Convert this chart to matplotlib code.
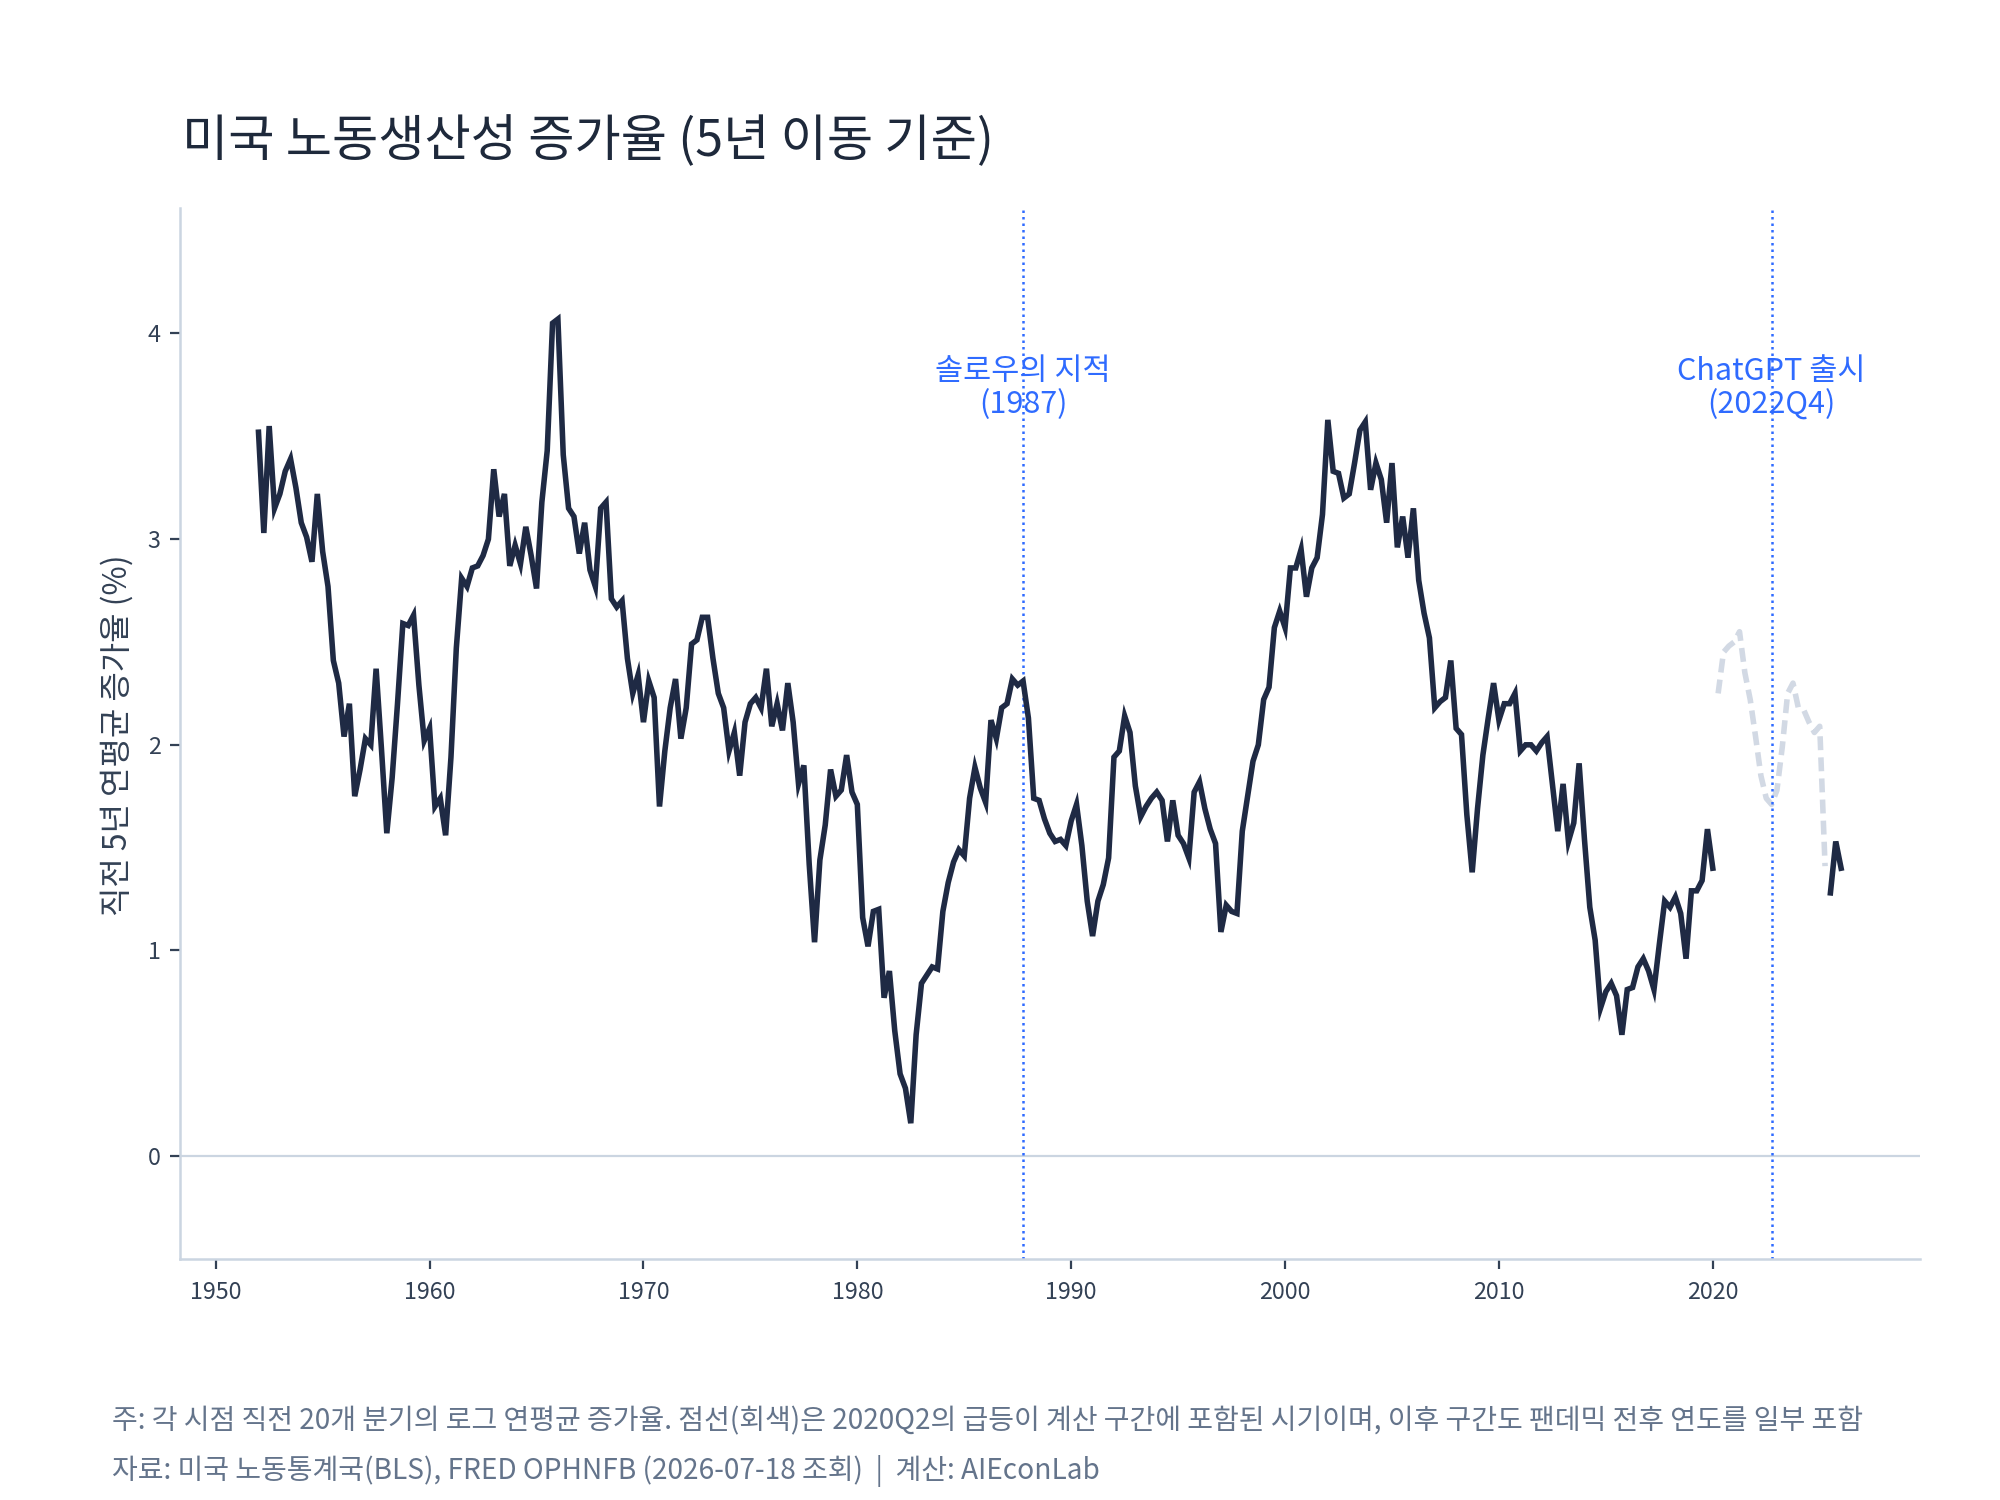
import numpy as np
import pandas as pd
import matplotlib
matplotlib.use("Agg")
import matplotlib.pyplot as plt

plt.rcParams['font.family'] = ['Noto Sans CJK KR', 'DejaVu Sans']

# ---------------- data (quarterly, 5-year trailing annualised log growth, %) ----------------
solid_start = "1952Q1"
solid_values = [
    3.52, 3.03, 3.55, 3.15,   # 1952
    3.22, 3.33, 3.39, 3.25,   # 1953
    3.08, 3.01, 2.89, 3.22,   # 1954
    2.94, 2.77, 2.41, 2.30,   # 1955
    2.04, 2.20, 1.75, 1.88,   # 1956
    2.03, 2.00, 2.37, 1.98,   # 1957
    1.57, 1.84, 2.20, 2.59,   # 1958
    2.58, 2.63, 2.29, 2.02,   # 1959
    2.08, 1.70, 1.74, 1.56,   # 1960
    1.94, 2.47, 2.81, 2.77,   # 1961
    2.86, 2.87, 2.92, 3.00,   # 1962
    3.34, 3.11, 3.22, 2.87,   # 1963
    2.97, 2.88, 3.06, 2.92,   # 1964
    2.76, 3.18, 3.43, 4.05,   # 1965
    4.07, 3.41, 3.15, 3.11,   # 1966
    2.93, 3.08, 2.85, 2.77,   # 1967
    3.15, 3.18, 2.71, 2.67,   # 1968
    2.70, 2.42, 2.25, 2.34,   # 1969
    2.11, 2.31, 2.23, 1.70,   # 1970
    1.97, 2.18, 2.32, 2.03,   # 1971
    2.18, 2.49, 2.51, 2.62,   # 1972
    2.62, 2.42, 2.25, 2.18,   # 1973
    1.97, 2.06, 1.85, 2.11,   # 1974
    2.20, 2.23, 2.18, 2.37,   # 1975
    2.09, 2.20, 2.07, 2.30,   # 1976
    2.11, 1.81, 1.90, 1.42,   # 1977
    1.04, 1.44, 1.61, 1.88,   # 1978
    1.75, 1.78, 1.95, 1.77,   # 1979
    1.71, 1.16, 1.02, 1.19,   # 1980
    1.20, 0.77, 0.90, 0.61,   # 1981
    0.40, 0.33, 0.16, 0.59,   # 1982
    0.84, 0.88, 0.92, 0.91,   # 1983
    1.19, 1.33, 1.43, 1.49,   # 1984
    1.46, 1.74, 1.89, 1.79,   # 1985
    1.72, 2.12, 2.03, 2.18,   # 1986
    2.20, 2.32, 2.29, 2.31,   # 1987
    2.13, 1.74, 1.73, 1.64,   # 1988
    1.57, 1.53, 1.54, 1.51,   # 1989
    1.63, 1.71, 1.51, 1.24,   # 1990
    1.07, 1.24, 1.32, 1.45,   # 1991
    1.94, 1.97, 2.14, 2.06,   # 1992
    1.80, 1.65, 1.70, 1.74,   # 1993
    1.77, 1.73, 1.53, 1.73,   # 1994
    1.56, 1.52, 1.45, 1.77,   # 1995
    1.82, 1.69, 1.59, 1.52,   # 1996
    1.09, 1.22, 1.19, 1.18,   # 1997
    1.58, 1.75, 1.92, 2.00,   # 1998
    2.22, 2.28, 2.57, 2.65,   # 1999
    2.57, 2.86, 2.86, 2.95,   # 2000
    2.72, 2.86, 2.91, 3.12,   # 2001
    3.58, 3.33, 3.32, 3.20,   # 2002
    3.22, 3.37, 3.53, 3.57,   # 2003
    3.24, 3.37, 3.29, 3.08,   # 2004
    3.37, 2.96, 3.11, 2.91,   # 2005
    3.15, 2.80, 2.64, 2.52,   # 2006
    2.18, 2.21, 2.23, 2.41,   # 2007
    2.08, 2.05, 1.66, 1.38,   # 2008
    1.69, 1.95, 2.13, 2.30,   # 2009
    2.12, 2.20, 2.20, 2.25,   # 2010
    1.97, 2.00, 2.00, 1.97,   # 2011
    2.01, 2.04, 1.81, 1.58,   # 2012
    1.81, 1.53, 1.62, 1.91,   # 2013
    1.54, 1.21, 1.05, 0.72,   # 2014
    0.80, 0.84, 0.78, 0.59,   # 2015
    0.81, 0.82, 0.92, 0.96,   # 2016
    0.90, 0.81, 1.03, 1.24,   # 2017
    1.21, 1.26, 1.18, 0.96,   # 2018
    1.29, 1.29, 1.34, 1.59,   # 2019
    1.40,                     # 2020Q1
]

dashed_start = "2020Q2"
dashed_values = [
    2.25, 2.45, 2.48,          # 2020Q2-Q4
    2.50, 2.55, 2.35, 2.22,    # 2021
    2.04, 1.85, 1.74, 1.71,    # 2022
    1.78, 1.99, 2.25, 2.30,    # 2023
    2.18, 2.17, 2.11, 2.06,    # 2024
    2.09, 1.41,                # 2025Q1-Q2
]

tail_start = "2025Q3"
tail_values = [1.28, 1.53, 1.40]   # 2025Q3 - 2026Q1

events_x = [1987.75, 2022.75]
events_label = ["솔로우의 지적\n(1987)", "ChatGPT 출시\n(2022Q4)"]

x_ticks = [1950, 1960, 1970, 1980, 1990, 2000, 2010, 2020]
y_ticks = [0, 1, 2, 3, 4]

title = "미국 노동생산성 증가율 (5년 이동 기준)"
ylabel = "직전 5년 연평균 증가율 (%)"
note1 = "주: 각 시점 직전 20개 분기의 로그 연평균 증가율. 점선(회색)은 2020Q2의 급등이 계산 구간에 포함된 시기이며, 이후 구간도 팬데믹 전후 연도를 일부 포함"
note2 = "자료: 미국 노동통계국(BLS), FRED OPHNFB (2026-07-18 조회)  |  계산: AIEconLab"


def quarter_x(start, n):
    p = pd.period_range(start=start, periods=n, freq="Q")
    return p.year + (p.quarter - 1) / 4.0


# ---------------- style ----------------
NAVY = "#1f2a44"
GRID = "#cbd5e1"
BLUE = "#2f6bff"
TEXT = "#1e293b"
TICK = "#334155"
NOTE = "#64748b"

fig = plt.figure(figsize=(10, 7.5), dpi=200)
ax = fig.add_axes([0.09, 0.1607, 0.8698, 0.7006])

ax.axhline(0, color=GRID, lw=0.8, zorder=1)

ax.plot(quarter_x(solid_start, len(solid_values)), solid_values,
        color=NAVY, lw=2.0, solid_joinstyle="miter", zorder=3)
ax.plot(quarter_x(dashed_start, len(dashed_values)), dashed_values,
        color="#d2d9e4", lw=2.0, linestyle=(0, (2.5, 1.3)), zorder=2)
ax.plot(quarter_x(tail_start, len(tail_values)), tail_values,
        color=NAVY, lw=2.0, solid_joinstyle="miter", zorder=3)

for xv, lab in zip(events_x, events_label):
    ax.axvline(xv, color=BLUE, lw=0.9, linestyle=(0, (1, 1.6)), zorder=2)
    ax.text(xv, 3.735, lab, color=BLUE, ha="center", va="center",
            fontsize=11, linespacing=1.1, zorder=4)

ax.set_xlim(1948.33, 2029.67)
ax.set_ylim(-0.5, 4.61)
ax.set_xticks(x_ticks)
ax.set_yticks(y_ticks)
ax.set_xticklabels([str(v) for v in x_ticks])
ax.set_yticklabels([str(v) for v in y_ticks])

for s in ["top", "right"]:
    ax.spines[s].set_visible(False)
for s in ["left", "bottom"]:
    ax.spines[s].set_color(GRID)
    ax.spines[s].set_linewidth(0.9)

ax.tick_params(axis="both", colors=TICK, labelsize=8.4, length=3.5, width=0.8)
ax.tick_params(axis="x", pad=4.5)
ax.tick_params(axis="y", pad=3.5)
ax.tick_params(axis="both", labelcolor=TICK)

fig.text(0.091, 0.905, title, fontsize=18.1, color=TEXT, ha="left", va="center")
fig.text(0.0585, 0.51, ylabel, fontsize=11.5, color=TICK, rotation=90,
         ha="center", va="center")
fig.text(0.056, 0.0527, note1, fontsize=10.1, color=NOTE, ha="left", va="center")
fig.text(0.056, 0.0193, note2, fontsize=10.1, color=NOTE, ha="left", va="center")

fig.savefig("out.png", dpi=200)
